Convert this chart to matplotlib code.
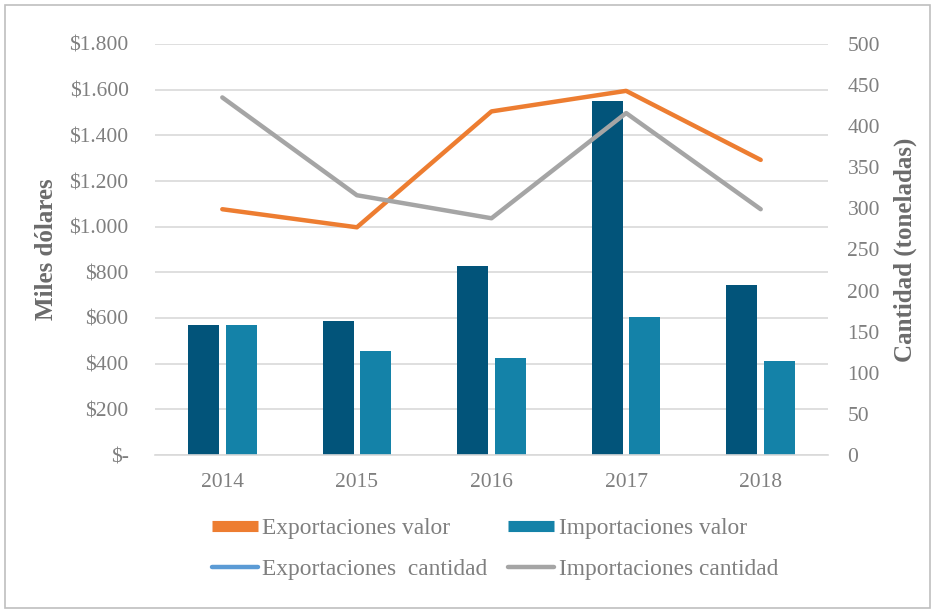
import matplotlib
matplotlib.use("Agg")
import matplotlib.pyplot as plt
from matplotlib.patches import Rectangle
from matplotlib.lines import Line2D
import numpy as np

plt.rcParams['font.family'] = ['Liberation Serif', 'DejaVu Serif']

years = ["2014", "2015", "2016", "2017", "2018"]
export_value = [570, 587, 828, 1550, 745]      # dark bars (miles dólares)
import_value = [570, 455, 425, 604, 412]       # teal bars (miles dólares)
export_qty = [299, 277, 418, 443, 359]         # orange line (toneladas)
import_qty = [435, 316, 288, 416, 299]         # gray line (toneladas)
left_ticks = [0, 200, 400, 600, 800, 1000, 1200, 1400, 1600, 1800]
left_labels = ["$-", "$200", "$400", "$600", "$800", "$1.000", "$1.200", "$1.400", "$1.600", "$1.800"]
right_ticks = [0, 50, 100, 150, 200, 250, 300, 350, 400, 450, 500]

C_DARK = "#02547A"
C_TEAL = "#1482A8"
C_ORANGE = "#ED7D31"
C_GRAY = "#A5A5A5"
C_BLUE = "#5B9BD5"
C_TEXT = "#7F7F7F"
C_LABEL = "#6B6B6B"

fig = plt.figure(figsize=(9.39, 6.13), dpi=100)
W, H = 939, 613
ax = fig.add_axes([155 / W, 1 - 455 / H, (828 - 155) / W, (455 - 44) / H])
ax2 = ax.twinx()

x = np.arange(len(years))
bw = 0.23
ax.bar(x - 0.14, export_value, width=bw, color=C_DARK, zorder=2)
ax.bar(x + 0.14, import_value, width=bw, color=C_TEAL, zorder=2)
ax.set_ylim(0, 1800)
ax.set_xlim(-0.5, len(years) - 0.5)
ax.set_yticks(left_ticks)
ax.set_yticklabels(left_labels)
ax.set_xticks(x)
ax.set_xticklabels(years)
ax.grid(axis='y', color='#D9D9D9', linewidth=1.2, zorder=0)
ax.set_axisbelow(True)
for s in ax.spines.values():
    s.set_visible(False)
for s in ax2.spines.values():
    s.set_visible(False)
ax.spines['bottom'].set_visible(True)
ax.spines['bottom'].set_color('#D9D9D9')
ax.spines['bottom'].set_linewidth(1.2)
ax.tick_params(axis='y', length=0, pad=19, labelsize=15.5, labelcolor=C_TEXT)
ax.tick_params(axis='x', length=0, pad=13, labelsize=15.5, labelcolor=C_TEXT)
ax.set_ylabel("Miles dólares", fontsize=18, fontweight='bold', color=C_LABEL, labelpad=8)

ax2.plot(x, export_qty, color=C_ORANGE, linewidth=3.2, solid_capstyle='round', zorder=3)
ax2.plot(x, import_qty, color=C_GRAY, linewidth=3.2, solid_capstyle='round', zorder=3)
ax2.set_ylim(0, 500)
ax2.set_yticks(right_ticks)
ax2.tick_params(axis='y', length=0, pad=14, labelsize=15.5, labelcolor=C_TEXT)
ax2.set_ylabel("Cantidad (toneladas)", fontsize=18, fontweight='bold', color=C_LABEL, labelpad=10)

handles = [
    Line2D([0], [0], color=C_ORANGE, linewidth=8, solid_capstyle='butt', label="Exportaciones valor"),
    Line2D([0], [0], color=C_BLUE, linewidth=3.2, solid_capstyle='round', label="Exportaciones  cantidad"),
    Line2D([0], [0], color=C_TEAL, linewidth=8, solid_capstyle='butt', label="Importaciones valor"),
    Line2D([0], [0], color=C_GRAY, linewidth=3.2, solid_capstyle='round', label="Importaciones cantidad"),
]
leg = fig.legend(handles=handles, ncol=2, loc='center', bbox_to_anchor=(495 / W, 1 - 549 / H),
                 frameon=False, fontsize=16.8, handlelength=1.95, handletextpad=0.2,
                 columnspacing=0.9, labelspacing=0.85, labelcolor=C_TEXT)

fig.patches.append(Rectangle((5 / W, 5 / H), 925 / W, 603 / H, transform=fig.transFigure,
                             fill=False, edgecolor='#BFBFBF', linewidth=1.2))

fig.savefig("out.png", dpi=100)
